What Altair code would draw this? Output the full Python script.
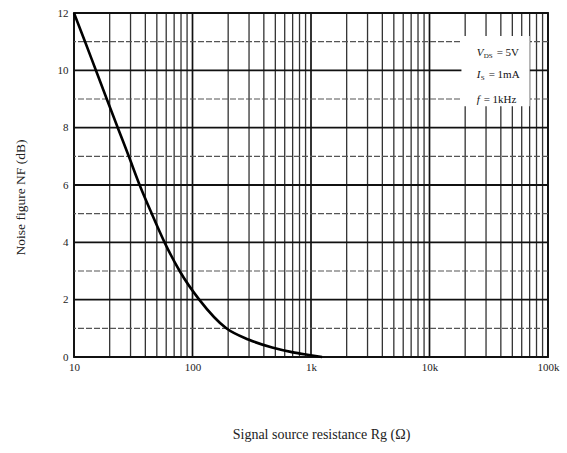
import altair as alt
import pandas as pd

# Curve
r_ohm = [10, 12.4, 15.3, 18.9, 23.4, 29.0, 35.8, 45.3, 58.1, 77.9, 114, 193, 300, 470, 690, 960, 1240]
nf_db = [12, 11, 10, 9, 8, 7, 6, 5, 4, 3, 2, 1, 0.6, 0.33, 0.17, 0.07, 0.0]

# Grid values
decades = [10, 100, 1000, 10000, 100000]
v_grid = [d * k for d in [10, 100, 1000, 10000] for k in range(2, 10)]
h_major = [0, 2, 4, 6, 8, 10, 12]
h_minor = [1, 3, 5, 7, 9, 11]

# Annotation box (data coordinates) and texts
box_x = [18600, 70000]
box_y = [8.75, 11.2]
ann_main = ["V", "I", "f"]
ann_sub = ["DS", "S", ""]
ann_rest = ["= 5V", "= 1mA", "= 1kHz"]
ann_y = [10.6, 9.85, 8.98]
ann_x = 25000

FONT = "Liberation Serif"

xs = alt.Scale(type="log", domain=[10, 100000], nice=False)
ys = alt.Scale(domain=[0, 12], nice=False)

label_expr = ("datum.value == 10 ? '10' : datum.value == 100 ? '100' : datum.value == 1000 ? '1k' : "
              "datum.value == 10000 ? '10k' : datum.value == 100000 ? '100k' : ''")

XT = "Signal source resistance  Rg (Ω)"
YT = "Noise figure  NF (dB)"

xaxis = alt.Axis(values=decades, labelExpr=label_expr, grid=False, ticks=False, domain=False,
                 labelFlush=False, labelFont=FONT, labelFontSize=11, labelColor="#222", labelPadding=4,
                 title=XT, titleFont=FONT, titleFontSize=14,
                 titleFontWeight="normal", titleColor="#222", titlePadding=55, titleX=247)
yaxis = alt.Axis(values=h_major, grid=False, ticks=False, domain=False,
                 labelFlush=False, labelFont=FONT, labelFontSize=11, labelColor="#222", labelPadding=6,
                 title=YT, titleFont=FONT, titleFontSize=13.5,
                 titleFontWeight="normal", titleColor="#222", titlePadding=30, titleY=184)


def X(f):
    return alt.X(f, scale=xs, axis=xaxis, title=XT)


def Y(f):
    return alt.Y(f, scale=ys, axis=yaxis, title=YT)


vminor = alt.Chart(pd.DataFrame({"x": v_grid})).mark_rule(color="#333", strokeWidth=1.3).encode(x=X("x:Q"))
vmajor = alt.Chart(pd.DataFrame({"x": decades})).mark_rule(color="#111", strokeWidth=1.7).encode(x=X("x:Q"))
hminor = alt.Chart(pd.DataFrame({"y": h_minor})).mark_rule(
    color="#555", strokeWidth=1.1, strokeDash=[6, 2]).encode(y=Y("y:Q"))
hmajor = alt.Chart(pd.DataFrame({"y": h_major})).mark_rule(color="#111", strokeWidth=1.8).encode(y=Y("y:Q"))

box = alt.Chart(pd.DataFrame({"x": [box_x[0]], "x2": [box_x[1]], "y": [box_y[0]], "y2": [box_y[1]]})).mark_rect(
    color="white").encode(x=X("x:Q"), x2="x2:Q", y=Y("y:Q"), y2="y2:Q")

ann_layers = []
for m, s, r, yv in zip(ann_main, ann_sub, ann_rest, ann_y):
    df = pd.DataFrame({"x": [ann_x], "y": [yv], "m": [m], "s": [s], "r": [r]})
    w_main = 7 if m == "V" else 4
    w_sub = 5 * len(s)
    ann_layers.append(alt.Chart(df).mark_text(
        font=FONT, fontSize=11, fontStyle="italic", align="left", baseline="middle", color="#111").encode(
        x=X("x:Q"), y=Y("y:Q"), text="m:N"))
    if s:
        ann_layers.append(alt.Chart(df).mark_text(
            font=FONT, fontSize=7, align="left", baseline="middle", dx=w_main, dy=3, color="#111").encode(
            x=X("x:Q"), y=Y("y:Q"), text="s:N"))
    ann_layers.append(alt.Chart(df).mark_text(
        font=FONT, fontSize=11, align="left", baseline="middle", dx=w_main + w_sub + 3, color="#111").encode(
        x=X("x:Q"), y=Y("y:Q"), text="r:N"))

curve = alt.Chart(pd.DataFrame({"r": r_ohm, "nf": nf_db})).mark_line(
    color="black", strokeWidth=2.6, interpolate="monotone").encode(x=X("r:Q"), y=Y("nf:Q"))

chart = alt.layer(vminor, vmajor, hminor, hmajor, box, *ann_layers, curve).properties(
    width=474, height=344,
    autosize=alt.AutoSizeParams(type="none"),
    padding={"left": 74, "top": 13, "right": 19, "bottom": 96},
    background="white",
).configure_view(stroke="#111", strokeWidth=1.8)

chart.save("out.html", embed_options={"renderer": "svg", "actions": False})
